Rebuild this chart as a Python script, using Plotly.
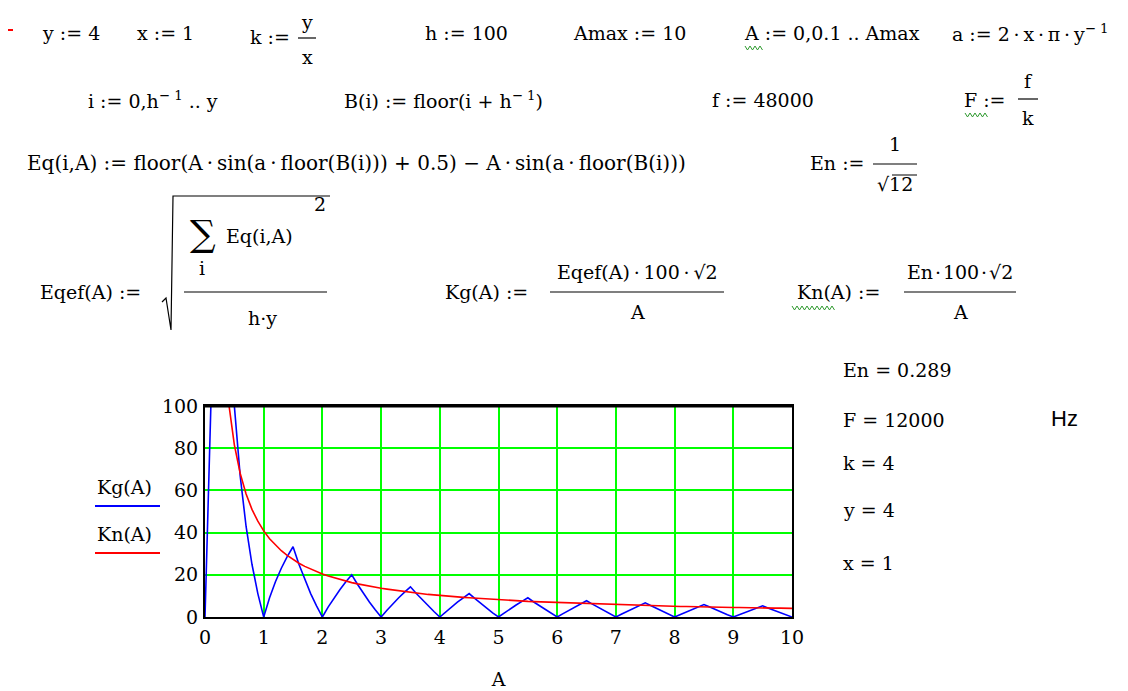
import plotly.graph_objects as go

# A := 0, 0.1 .. Amax
A_vals = [0.0, 0.1, 0.2, 0.3, 0.4, 0.5, 0.6, 0.7, 0.8, 0.9,
          1.0, 1.1, 1.2, 1.3, 1.4, 1.5, 1.6, 1.7, 1.8, 1.9,
          2.0, 2.1, 2.2, 2.3, 2.4, 2.5, 2.6, 2.7, 2.8, 2.9,
          3.0, 3.1, 3.2, 3.3, 3.4, 3.5, 3.6, 3.7, 3.8, 3.9,
          4.0, 4.1, 4.2, 4.3, 4.4, 4.5, 4.6, 4.7, 4.8, 4.9,
          5.0, 5.1, 5.2, 5.3, 5.4, 5.5, 5.6, 5.7, 5.8, 5.9,
          6.0, 6.1, 6.2, 6.3, 6.4, 6.5, 6.6, 6.7, 6.8, 6.9,
          7.0, 7.1, 7.2, 7.3, 7.4, 7.5, 7.6, 7.7, 7.8, 7.9,
          8.0, 8.1, 8.2, 8.3, 8.4, 8.5, 8.6, 8.7, 8.8, 8.9,
          9.0, 9.1, 9.2, 9.3, 9.4, 9.5, 9.6, 9.7, 9.8, 9.9,
          10.0]

# Kg(A), blue
kg_vals = [0, 100, 100, 100, 100, 100, 66.7, 42.9, 25.0, 11.1,
           0, 9.1, 16.7, 23.1, 28.6, 33.3, 25.0, 17.6, 11.1, 5.3,
           0, 4.8, 9.1, 13.0, 16.7, 20.0, 15.4, 11.1, 7.1, 3.4,
           0, 3.2, 6.3, 9.1, 11.8, 14.3, 11.1, 8.1, 5.3, 2.6,
           0, 2.4, 4.8, 7.0, 9.1, 11.1, 8.7, 6.4, 4.2, 2.0,
           0, 2.0, 3.8, 5.7, 7.4, 9.1, 7.1, 5.3, 3.4, 1.7,
           0, 1.6, 3.2, 4.8, 6.3, 7.7, 6.1, 4.5, 2.9, 1.4,
           0, 1.4, 2.8, 4.1, 5.4, 6.7, 5.3, 3.9, 2.6, 1.3,
           0, 1.2, 2.4, 3.6, 4.8, 5.9, 4.7, 3.4, 2.3, 1.1,
           0, 1.1, 2.2, 3.2, 4.3, 5.3, 4.2, 3.1, 2.0, 1.0,
           0]

# Kn(A), red
kn_vals = [None, 408.2, 204.1, 136.1, 102.1, 81.6, 68.0, 58.3, 51.0, 45.4,
           40.8, 37.1, 34.0, 31.4, 29.2, 27.2, 25.5, 24.0, 22.7, 21.5,
           20.4, 19.4, 18.6, 17.7, 17.0, 16.3, 15.7, 15.1, 14.6, 14.1,
           13.6, 13.2, 12.8, 12.4, 12.0, 11.7, 11.3, 11.0, 10.7, 10.5,
           10.2, 10.0, 9.7, 9.5, 9.3, 9.1, 8.9, 8.7, 8.5, 8.3,
           8.2, 8.0, 7.9, 7.7, 7.6, 7.4, 7.3, 7.2, 7.0, 6.9,
           6.8, 6.7, 6.6, 6.5, 6.4, 6.3, 6.2, 6.1, 6.0, 5.9,
           5.8, 5.7, 5.7, 5.6, 5.5, 5.4, 5.4, 5.3, 5.2, 5.2,
           5.1, 5.0, 5.0, 4.9, 4.9, 4.8, 4.7, 4.7, 4.6, 4.6,
           4.5, 4.5, 4.4, 4.4, 4.3, 4.3, 4.3, 4.2, 4.2, 4.1,
           4.1]

x_ticks = [0, 1, 2, 3, 4, 5, 6, 7, 8, 9, 10]
y_ticks = [0, 20, 40, 60, 80, 100]

W, H = 1128, 691
OFF = 8  # page body margin
# plot box on screen: x 205..792, y 406..617
L, R, T, B = 205 - OFF, W - (792 - OFF), 406 - OFF, H - (617 - OFF)
SERIF = "DejaVu Serif"
FS = 19
TS = "\u2009"  # thin space, Mathcad puts air round its operators
HS = "\u200a"  # hair space


def px(x):
    return (x - 205) / (792 - 205)


def py(y):
    return (617 - y) / (617 - 406)


annotations = []
shapes = []


def note(x, y, text, size=FS, anchor="left", family=SERIF, color="black"):
    annotations.append(dict(
        x=px(x), y=py(y), xref="paper", yref="paper", text=text,
        showarrow=False, xanchor=anchor, yanchor="middle",
        font=dict(family=family, size=size, color=color),
    ))


def bar(x0, x1, y, color="black", width=1.2):
    shapes.append(dict(type="line", xref="paper", yref="paper",
                       x0=px(x0), x1=px(x1), y0=py(y), y1=py(y),
                       line=dict(color=color, width=width)))


def squiggle(x0, x1, y):
    pts = []
    x = x0
    up = True
    while x <= x1:
        pts.append((px(x), py(y - 2 if up else y + 2)))
        up = not up
        x += 2.5
    path = "M " + " L ".join(f"{a:.5f},{b:.5f}" for a, b in pts)
    shapes.append(dict(type="path", xref="paper", yref="paper", path=path,
                       line=dict(color="#2e9a2e", width=1)))


def frac(cx, y, top, bottom, half, up=20, down=20):
    note(cx, y - up, top, anchor="center")
    bar(cx - half, cx + half, y)
    note(cx, y + down, bottom, anchor="center")


# red marker in the top-left corner
bar(8, 13, 30, color="red", width=2)

# row 1
note(40, 33, "y := 4")
note(135, 33, "x := 1")
note(248, 37, "k :=")
frac(307, 38, "y", "x", 9, up=16, down=19)
note(423, 33, "h := 100")
note(571, 33, "Amax := 10")
note(742, 33, "A := 0,0.1 .. Amax")
squiggle(745, 764, 48)
note(950, 33, f"a := 2{TS}·{TS}x{TS}·{TS}π{TS}·{TS}y<sup>− 1</sup>")

# row 2
note(86, 100, "i := 0,h<sup>− 1</sup> .. y")
note(342, 100, "B(i) := floor(i + h<sup>− 1</sup>)")
note(710, 100, "f := 48000")
note(962, 100, "F :=")
squiggle(965, 989, 115)
frac(1028, 99, "f", "k", 10, up=18, down=19)

# row 3
eq_text = ("Eq(i,A) := floor(A{0}·{0}sin(a{0}·{0}floor(B(i))) + 0.5) − "
           "A{0}·{0}sin(a{0}·{0}floor(B(i)))").format(TS)
note(25, 163, eq_text, size=20)
note(808, 163, "En :=")
frac(895, 164, "1", "√12", 22)
bar(892, 917, 175, width=1)

# row 4
note(38, 292, "Eqef(A) :=")
shapes.append(dict(type="path", xref="paper", yref="paper",
                   path=("M {:.5f},{:.5f} L {:.5f},{:.5f} L {:.5f},{:.5f} "
                         "L {:.5f},{:.5f} L {:.5f},{:.5f}").format(
                       px(162), py(302), px(166), py(298), px(171), py(330),
                       px(173), py(196), px(330), py(196)),
                   line=dict(color="black", width=1.2)))
note(203, 233, "∑", size=36, anchor="center")
note(224, 236, "Eq(i,A)")
note(312, 204, "2")
note(202, 268, "i", anchor="center")
bar(184, 327, 292)
note(262, 318, "h·y", anchor="center")

note(443, 292, "Kg(A) :=")
frac(637, 292, f"Eqef(A){TS}·{TS}100{TS}·{TS}√2", "A", 87)
note(795, 292, "Kn(A) :=")
squiggle(792, 835, 308)
frac(960, 292, f"En{HS}·{HS}100{HS}·{HS}√2", "A", 56)

# results on the right
note(841, 370, "En = 0.289")
note(841, 420, "F = 12000")
note(1049, 418, "Hz", size=22, family="Liberation Sans")
note(841, 463, "k = 4")
note(841, 510, "y = 4")
note(841, 563, "x = 1")

# legend drawn Mathcad style
note(95, 487, "Kg(A)")
bar(95, 160, 506, color="#0000ff", width=2)
note(95, 534, "Kn(A)")
bar(95, 160, 553, color="#ff0000", width=2)

# heavier top edge of the plot box
shapes.append(dict(type="line", xref="paper", yref="paper",
                   x0=0, x1=1, y0=1, y1=1,
                   line=dict(color="black", width=3)))

fig = go.Figure()
fig.add_trace(go.Scatter(x=A_vals, y=kg_vals, mode="lines", name="Kg(A)",
                         line=dict(color="#0000ff", width=1.6)))
fig.add_trace(go.Scatter(x=A_vals, y=kn_vals, mode="lines", name="Kn(A)",
                         line=dict(color="#ff0000", width=1.6)))

fig.update_xaxes(range=[0, 10], tickvals=x_ticks, showgrid=True,
                 gridcolor="#00ff00", gridwidth=2, zeroline=False,
                 showline=True, linecolor="black", linewidth=2, mirror=True,
                 ticks="", ticklabelstandoff=2, automargin=False,
                 tickfont=dict(family=SERIF, size=19, color="black"),
                 title=dict(text="A", standoff=26,
                            font=dict(family=SERIF, size=FS, color="black")))
fig.update_yaxes(range=[0, 100], tickvals=y_ticks, showgrid=True,
                 gridcolor="#00ff00", gridwidth=2, zeroline=False,
                 showline=True, linecolor="black", linewidth=2, mirror=True,
                 ticks="", ticklabelstandoff=1, automargin=False,
                 tickfont=dict(family=SERIF, size=19, color="black"))

fig.update_layout(
    width=W, height=H,
    margin=dict(l=L, r=R, t=T, b=B),
    paper_bgcolor="white", plot_bgcolor="white",
    showlegend=False,
    annotations=annotations,
    shapes=shapes,
)

fig.write_html("out.html")
